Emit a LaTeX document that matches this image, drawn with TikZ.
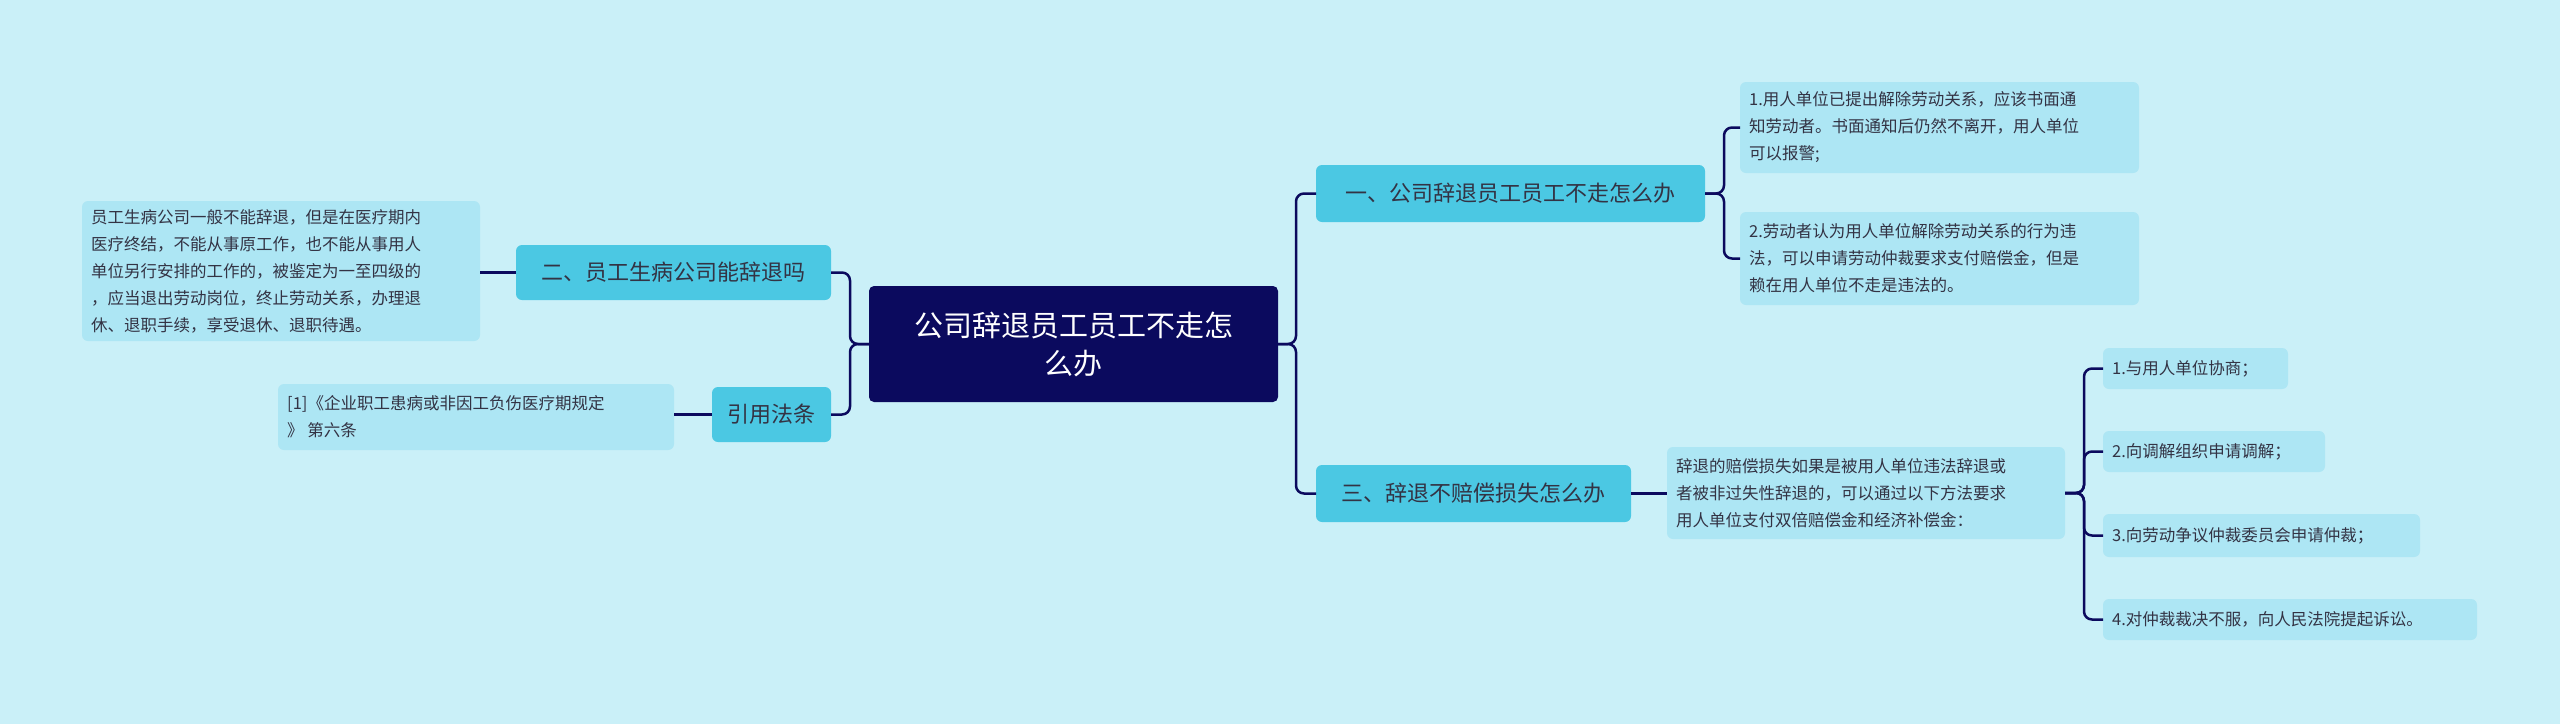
\documentclass[tikz,border=0pt]{standalone}
\usepackage{fontspec}
\setmainfont{Noto Sans CJK SC}
\begin{document}
\begin{tikzpicture}[x=1pt,y=-1pt,
 line/.style={draw=navy,line width=2.5pt,rounded corners=8pt},
 rootbox/.style={fill=navy,rounded corners=5pt,text=white,font=\fontsize{29}{38}\selectfont,align=center,inner sep=0pt},
 l1box/.style={fill=l1c,rounded corners=6pt,text=txt,font=\fontsize{22}{28}\selectfont,inner sep=0pt},
 leafbox/.style={fill=leafc,rounded corners=6pt,text=txt,font=\fontsize{16.5}{27}\selectfont,align=left,inner sep=0pt}]
\definecolor{navy}{HTML}{0B0A5E}
\definecolor{l1c}{HTML}{4BC8E3}
\definecolor{leafc}{HTML}{ADE6F4}
\definecolor{bg}{HTML}{CAF0F8}
\definecolor{txt}{HTML}{333344}
\fill[bg] (0,0) rectangle (2560,724);
\useasboundingbox (0,0) rectangle (2560,724);
% boxes
\fill[navy,rounded corners=5pt] (869,286) rectangle (1278,402);
\node[rootbox] (root) at (1073.5,344) {公司辞退员工员工不走怎\\么办};
\path[fill=l1c,rounded corners=6pt] (1316,165) rectangle (1705,222);
\node[l1box] (a) at (1510.5,193.5) {一、公司辞退员工员工不走怎么办};
\path[fill=l1c,rounded corners=6pt] (1316,465) rectangle (1631,522);
\node[l1box] (c) at (1473.5,493.5) {三、辞退不赔偿损失怎么办};
\path[fill=l1c,rounded corners=6pt] (516,245) rectangle (831,300);
\node[l1box] (b) at (673.5,272.5) {二、员工生病公司能辞退吗};
\path[fill=l1c,rounded corners=6pt] (712,387) rectangle (831,442);
\node[l1box] (ref) at (771.5,414.5) {引用法条};
% leaves
\fill[leafc,rounded corners=6pt] (82,201) rectangle (480,341);
\node[leafbox,anchor=west] (bl) at (91,271) {员工生病公司一般不能辞退，但是在医疗期内\\医疗终结，不能从事原工作，也不能从事用人\\单位另行安排的工作的，被鉴定为一至四级的\\，应当退出劳动岗位，终止劳动关系，办理退\\休、退职手续，享受退休、退职待遇。};
\fill[leafc,rounded corners=6pt] (278,384) rectangle (674,450);
\node[leafbox,anchor=west] (rl) at (287,417) {[1]《企业职工患病或非因工负伤医疗期规定\\》 第六条};
\fill[leafc,rounded corners=6pt] (1740,82) rectangle (2139,173);
\node[leafbox,anchor=west] (a1) at (1749,127.5) {1.用人单位已提出解除劳动关系，应该书面通\\知劳动者。书面通知后仍然不离开，用人单位\\可以报警;};
\fill[leafc,rounded corners=6pt] (1740,212) rectangle (2139,305);
\node[leafbox,anchor=west] (a2) at (1749,258.5) {2.劳动者认为用人单位解除劳动关系的行为违\\法，可以申请劳动仲裁要求支付赔偿金，但是\\赖在用人单位不走是违法的。};
\fill[leafc,rounded corners=6pt] (1667,447) rectangle (2065,539);
\node[leafbox,anchor=west] (cm) at (1676,493) {辞退的赔偿损失如果是被用人单位违法辞退或\\者被非过失性辞退的，可以通过以下方法要求\\用人单位支付双倍赔偿金和经济补偿金：};
\fill[leafc,rounded corners=6pt] (2103,348) rectangle (2288,389);
\node[leafbox,anchor=west] (c1) at (2112,368.5) {1.与用人单位协商；};
\fill[leafc,rounded corners=6pt] (2103,431) rectangle (2325,472);
\node[leafbox,anchor=west] (c2) at (2112,451.5) {2.向调解组织申请调解；};
\fill[leafc,rounded corners=6pt] (2103,514) rectangle (2420,557);
\node[leafbox,anchor=west] (c3) at (2112,535.5) {3.向劳动争议仲裁委员会申请仲裁；};
\fill[leafc,rounded corners=6pt] (2103,599) rectangle (2477,640);
\node[leafbox,anchor=west] (c4) at (2112,619.5) {4.对仲裁裁决不服，向人民法院提起诉讼。};
% coordinates
\coordinate (rootR) at (1278,344);
\coordinate (rootL) at (869,344);
\coordinate (aL) at (1316,193.5);
\coordinate (cL) at (1316,493.5);
\coordinate (bR) at (831,272.5);
\coordinate (refR) at (831,414.5);
\coordinate (bL) at (516,272.5);
\coordinate (refL) at (712,414.5);
\coordinate (blR) at (480,272.5);
\coordinate (rlR) at (674,414.5);
\coordinate (aR) at (1705,193.5);
\coordinate (a1L) at (1740,127.5);
\coordinate (a2L) at (1740,258.5);
\coordinate (cR) at (1631,493.5);
\coordinate (cmL) at (1667,493.5);
\coordinate (cmR) at (2065,493);
\coordinate (c1L) at (2103,368.5);
\coordinate (c2L) at (2103,451.5);
\coordinate (c3L) at (2103,535.5);
\coordinate (c4L) at (2103,619.5);
% connectors
\draw[line] (rootR) -- (1296,344) |- (aL);
\draw[line] (rootR) -- (1296,344) |- (cL);
\draw[line] (rootL) -- (850,344) |- (bR);
\draw[line] (rootL) -- (850,344) |- (refR);
\draw[line] (bL) -- (blR);
\draw[line] (refL) -- (rlR);
\draw[line] (aR) -- (1724,193.5) |- (a1L);
\draw[line] (aR) -- (1724,193.5) |- (a2L);
\draw[line] (cR) -- (cmL);
\draw[line] (cmR) -- (2084,493) |- (c1L);
\draw[line] (cmR) -- (2084,493) |- (c2L);
\draw[line] (cmR) -- (2084,493) |- (c3L);
\draw[line] (cmR) -- (2084,493) |- (c4L);
\end{tikzpicture}
\end{document}
